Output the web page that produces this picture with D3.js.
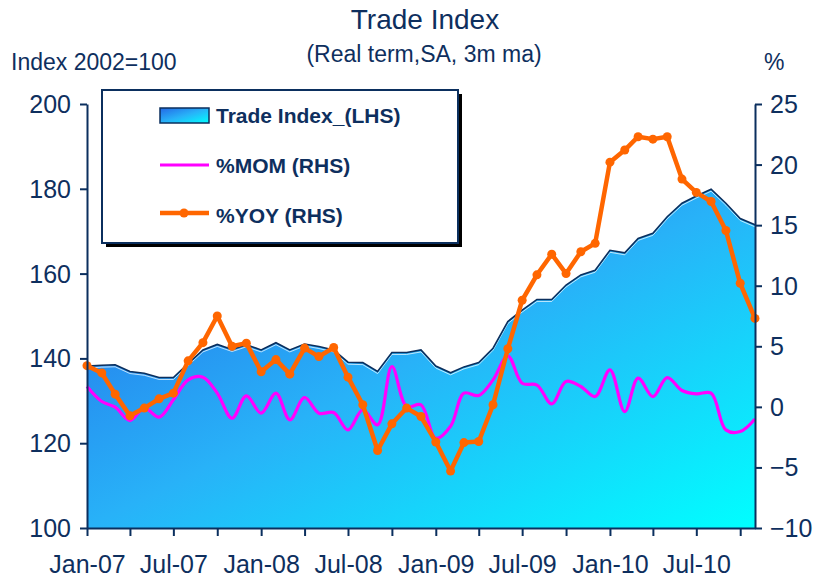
<!DOCTYPE html>
<html>
<head>
<meta charset="UTF-8">
<title>Trade Index</title>
<script src="https://cdn.jsdelivr.net/npm/d3@7"></script>
<style>
  body { margin: 0; background: #ffffff; }
  svg text { font-family: "Liberation Sans", Arial, sans-serif; fill: #0e2f5e; }
</style>
</head>
<body>
<div id="vis"></div>
<script>
// monthly data, Jan-07 .. Nov-10
var months = ["2007-01","2007-02","2007-03","2007-04","2007-05","2007-06","2007-07","2007-08","2007-09","2007-10","2007-11","2007-12",
  "2008-01","2008-02","2008-03","2008-04","2008-05","2008-06","2008-07","2008-08","2008-09","2008-10","2008-11","2008-12",
  "2009-01","2009-02","2009-03","2009-04","2009-05","2009-06","2009-07","2009-08","2009-09","2009-10","2009-11","2009-12",
  "2010-01","2010-02","2010-03","2010-04","2010-05","2010-06","2010-07","2010-08","2010-09","2010-10","2010-11"];
var tradeIndex = [138.2,138.4,138.5,136.9,136.5,135.5,135.5,138.8,142.0,143.3,142.1,143.2,
  142.0,143.7,142.0,143.4,142.8,142.0,139.1,139.0,136.9,141.4,141.4,142.0,
  138.2,136.6,138.0,139.0,142.4,148.7,151.4,153.9,153.9,157.3,159.7,160.8,
  165.5,164.9,168.3,169.5,173.4,176.6,178.3,179.9,176.6,173.0,171.5];
var mom = [1.68,0.44,-0.03,-1.13,-0.1,-0.85,0.58,2.23,2.45,1.13,-0.94,0.9,
  -0.52,1.13,-1.07,0.77,-0.52,-0.47,-1.9,-0.25,-1.49,3.33,0.03,0.17,
  -2.6,-1.6,1.13,0.94,2.23,4.2,1.95,1.8,0.25,2.1,1.68,0.85,
  3.06,-0.39,2.37,0.85,2.42,1.35,1.07,1.13,-1.9,-2.04,-1.0];
var yoy = [3.4,2.8,1.05,-0.74,-0.1,0.66,1.13,3.8,5.3,7.5,5.0,5.26,
  2.9,3.9,2.7,4.85,4.15,4.9,2.45,0.17,-3.6,-1.4,-0.1,-0.8,
  -2.9,-5.3,-2.95,-2.86,0.17,4.8,8.8,10.9,12.6,11.0,12.8,13.5,
  20.2,21.2,22.3,22.1,22.3,18.8,17.7,16.95,14.56,10.2,7.3];
var leftTicks = [100,120,140,160,180,200];
var rightTicks = [-10,-5,0,5,10,15,20,25];
var legendLabels = ["Trade Index_(LHS)", "%MOM (RHS)", "%YOY (RHS)"];

var parseMonth = d3.timeParse("%Y-%m");
var data = months.map(function(m, i) {
  return {date: parseMonth(m), idx: tradeIndex[i], mom: mom[i], yoy: yoy[i]};
});

var width = 819, height = 580;
var margin = {top: 104, right: 64, bottom: 52, left: 87};

var svg = d3.select("#vis").append("svg")
  .attr("width", width)
  .attr("height", height);

var defs = svg.append("defs");
var grad = defs.append("linearGradient")
  .attr("id", "areaGrad")
  .attr("x1", 0).attr("y1", 0).attr("x2", 1).attr("y2", 1);
grad.append("stop").attr("offset", 0).attr("stop-color", "#2468e6");
grad.append("stop").attr("offset", 0.5).attr("stop-color", "#28b2f8");
grad.append("stop").attr("offset", 1).attr("stop-color", "#00ffff");

var x = d3.scaleTime()
  .domain(d3.extent(data, function(d) { return d.date; }))
  .range([margin.left, width - margin.right]);
var yL = d3.scaleLinear().domain([100, 200]).range([height - margin.bottom, margin.top]);
var yR = d3.scaleLinear().domain([-10, 25]).range([height - margin.bottom, margin.top]);

// area for trade index
var area = d3.area()
  .x(function(d) { return x(d.date); })
  .y0(yL(100))
  .y1(function(d) { return yL(d.idx); });
svg.append("path")
  .datum(data)
  .attr("d", area)
  .attr("fill", "url(#areaGrad)");
// white highlight + dark edge on top of area
svg.append("path")
  .datum(data)
  .attr("d", d3.line().x(function(d) { return x(d.date); }).y(function(d) { return yL(d.idx) + 2; }))
  .attr("fill", "none")
  .attr("stroke", "#ffffff")
  .attr("stroke-opacity", 0.7)
  .attr("stroke-width", 1);
svg.append("path")
  .datum(data)
  .attr("d", d3.line().x(function(d) { return x(d.date); }).y(function(d) { return yL(d.idx); }))
  .attr("fill", "none")
  .attr("stroke", "#0b2f5e")
  .attr("stroke-width", 1.6);

// %MOM smoothed line
svg.append("path")
  .datum(data)
  .attr("d", d3.line().curve(d3.curveCatmullRom.alpha(0.5))
    .x(function(d) { return x(d.date); })
    .y(function(d) { return yR(d.mom); }))
  .attr("fill", "none")
  .attr("stroke", "#ff00ff")
  .attr("stroke-width", 3.2);

// %YOY line with markers
svg.append("path")
  .datum(data)
  .attr("d", d3.line()
    .x(function(d) { return x(d.date); })
    .y(function(d) { return yR(d.yoy); }))
  .attr("fill", "none")
  .attr("stroke", "#ff6600")
  .attr("stroke-width", 4.5)
  .attr("stroke-linejoin", "round");
svg.selectAll("circle.yoy")
  .data(data)
  .enter()
  .append("circle")
  .attr("class", "yoy")
  .attr("cx", function(d) { return x(d.date); })
  .attr("cy", function(d) { return yR(d.yoy); })
  .attr("r", 4.5)
  .attr("fill", "#ff6600");

// axes
var axisColor = "#0b2f5e";
var leftAxis = svg.append("g")
  .attr("transform", "translate(" + margin.left + ",0)")
  .call(d3.axisLeft(yL).tickValues(leftTicks).tickSize(7).tickPadding(9).tickSizeOuter(0));
var rightAxis = svg.append("g")
  .attr("transform", "translate(" + (width - margin.right) + ",0)")
  .call(d3.axisRight(yR).tickValues(rightTicks).tickSize(7).tickPadding(8).tickSizeOuter(0));
var bottomAxis = svg.append("g")
  .attr("transform", "translate(0," + (height - margin.bottom) + ")")
  .call(d3.axisBottom(x).ticks(d3.timeMonth.every(3)).tickSize(8).tickPadding(19).tickSizeOuter(0)
    .tickFormat(function(d) { return d.getMonth() % 6 === 0 ? d3.timeFormat("%b-%y")(d) : ""; }));

[leftAxis, rightAxis, bottomAxis].forEach(function(g) {
  g.selectAll("path, line").attr("stroke", axisColor).attr("stroke-width", 2);
  g.selectAll("text")
    .style("font-family", "'Liberation Sans', Arial, sans-serif")
    .style("font-size", "25px")
    .attr("fill", "#0e2f5e");
});
rightAxis.selectAll("text").attr("dy", "0.34em");
leftAxis.selectAll("text").attr("dy", "0.34em");

// titles
svg.append("text")
  .attr("x", 425).attr("y", 29)
  .attr("text-anchor", "middle")
  .style("font-size", "28px")
  .text("Trade Index");
svg.append("text")
  .attr("x", 424).attr("y", 62)
  .attr("text-anchor", "middle")
  .style("font-size", "23px")
  .text("(Real term,SA, 3m ma)");
svg.append("text")
  .attr("x", 11).attr("y", 70)
  .style("font-size", "23px")
  .text("Index 2002=100");
svg.append("text")
  .attr("x", 764).attr("y", 70)
  .style("font-size", "23px")
  .text("%");

// legend
var legend = svg.append("g");
legend.append("rect")
  .attr("x", 106).attr("y", 94).attr("width", 356).attr("height", 153)
  .attr("fill", "#000000");
legend.append("rect")
  .attr("x", 102).attr("y", 90).attr("width", 356).attr("height", 153)
  .attr("fill", "#ffffff")
  .attr("stroke", axisColor)
  .attr("stroke-width", 2);
legend.append("rect")
  .attr("x", 160).attr("y", 108).attr("width", 49).attr("height", 15)
  .attr("fill", "url(#areaGrad)")
  .attr("stroke", axisColor)
  .attr("stroke-width", 1.5);
legend.append("line")
  .attr("x1", 160).attr("x2", 209).attr("y1", 165).attr("y2", 165)
  .attr("stroke", "#ff00ff").attr("stroke-width", 3);
legend.append("line")
  .attr("x1", 160).attr("x2", 209).attr("y1", 213).attr("y2", 213)
  .attr("stroke", "#ff6600").attr("stroke-width", 4.5);
legend.append("circle")
  .attr("cx", 184).attr("cy", 213).attr("r", 4.5)
  .attr("fill", "#ff6600");
legend.selectAll("text.lg")
  .data(legendLabels)
  .enter()
  .append("text")
  .attr("class", "lg")
  .attr("x", 216)
  .attr("y", function(d, i) { return 123 + i * 50; })
  .style("font-size", "21px")
  .style("font-weight", "bold")
  .text(function(d) { return d; });
</script>
</body>
</html>
